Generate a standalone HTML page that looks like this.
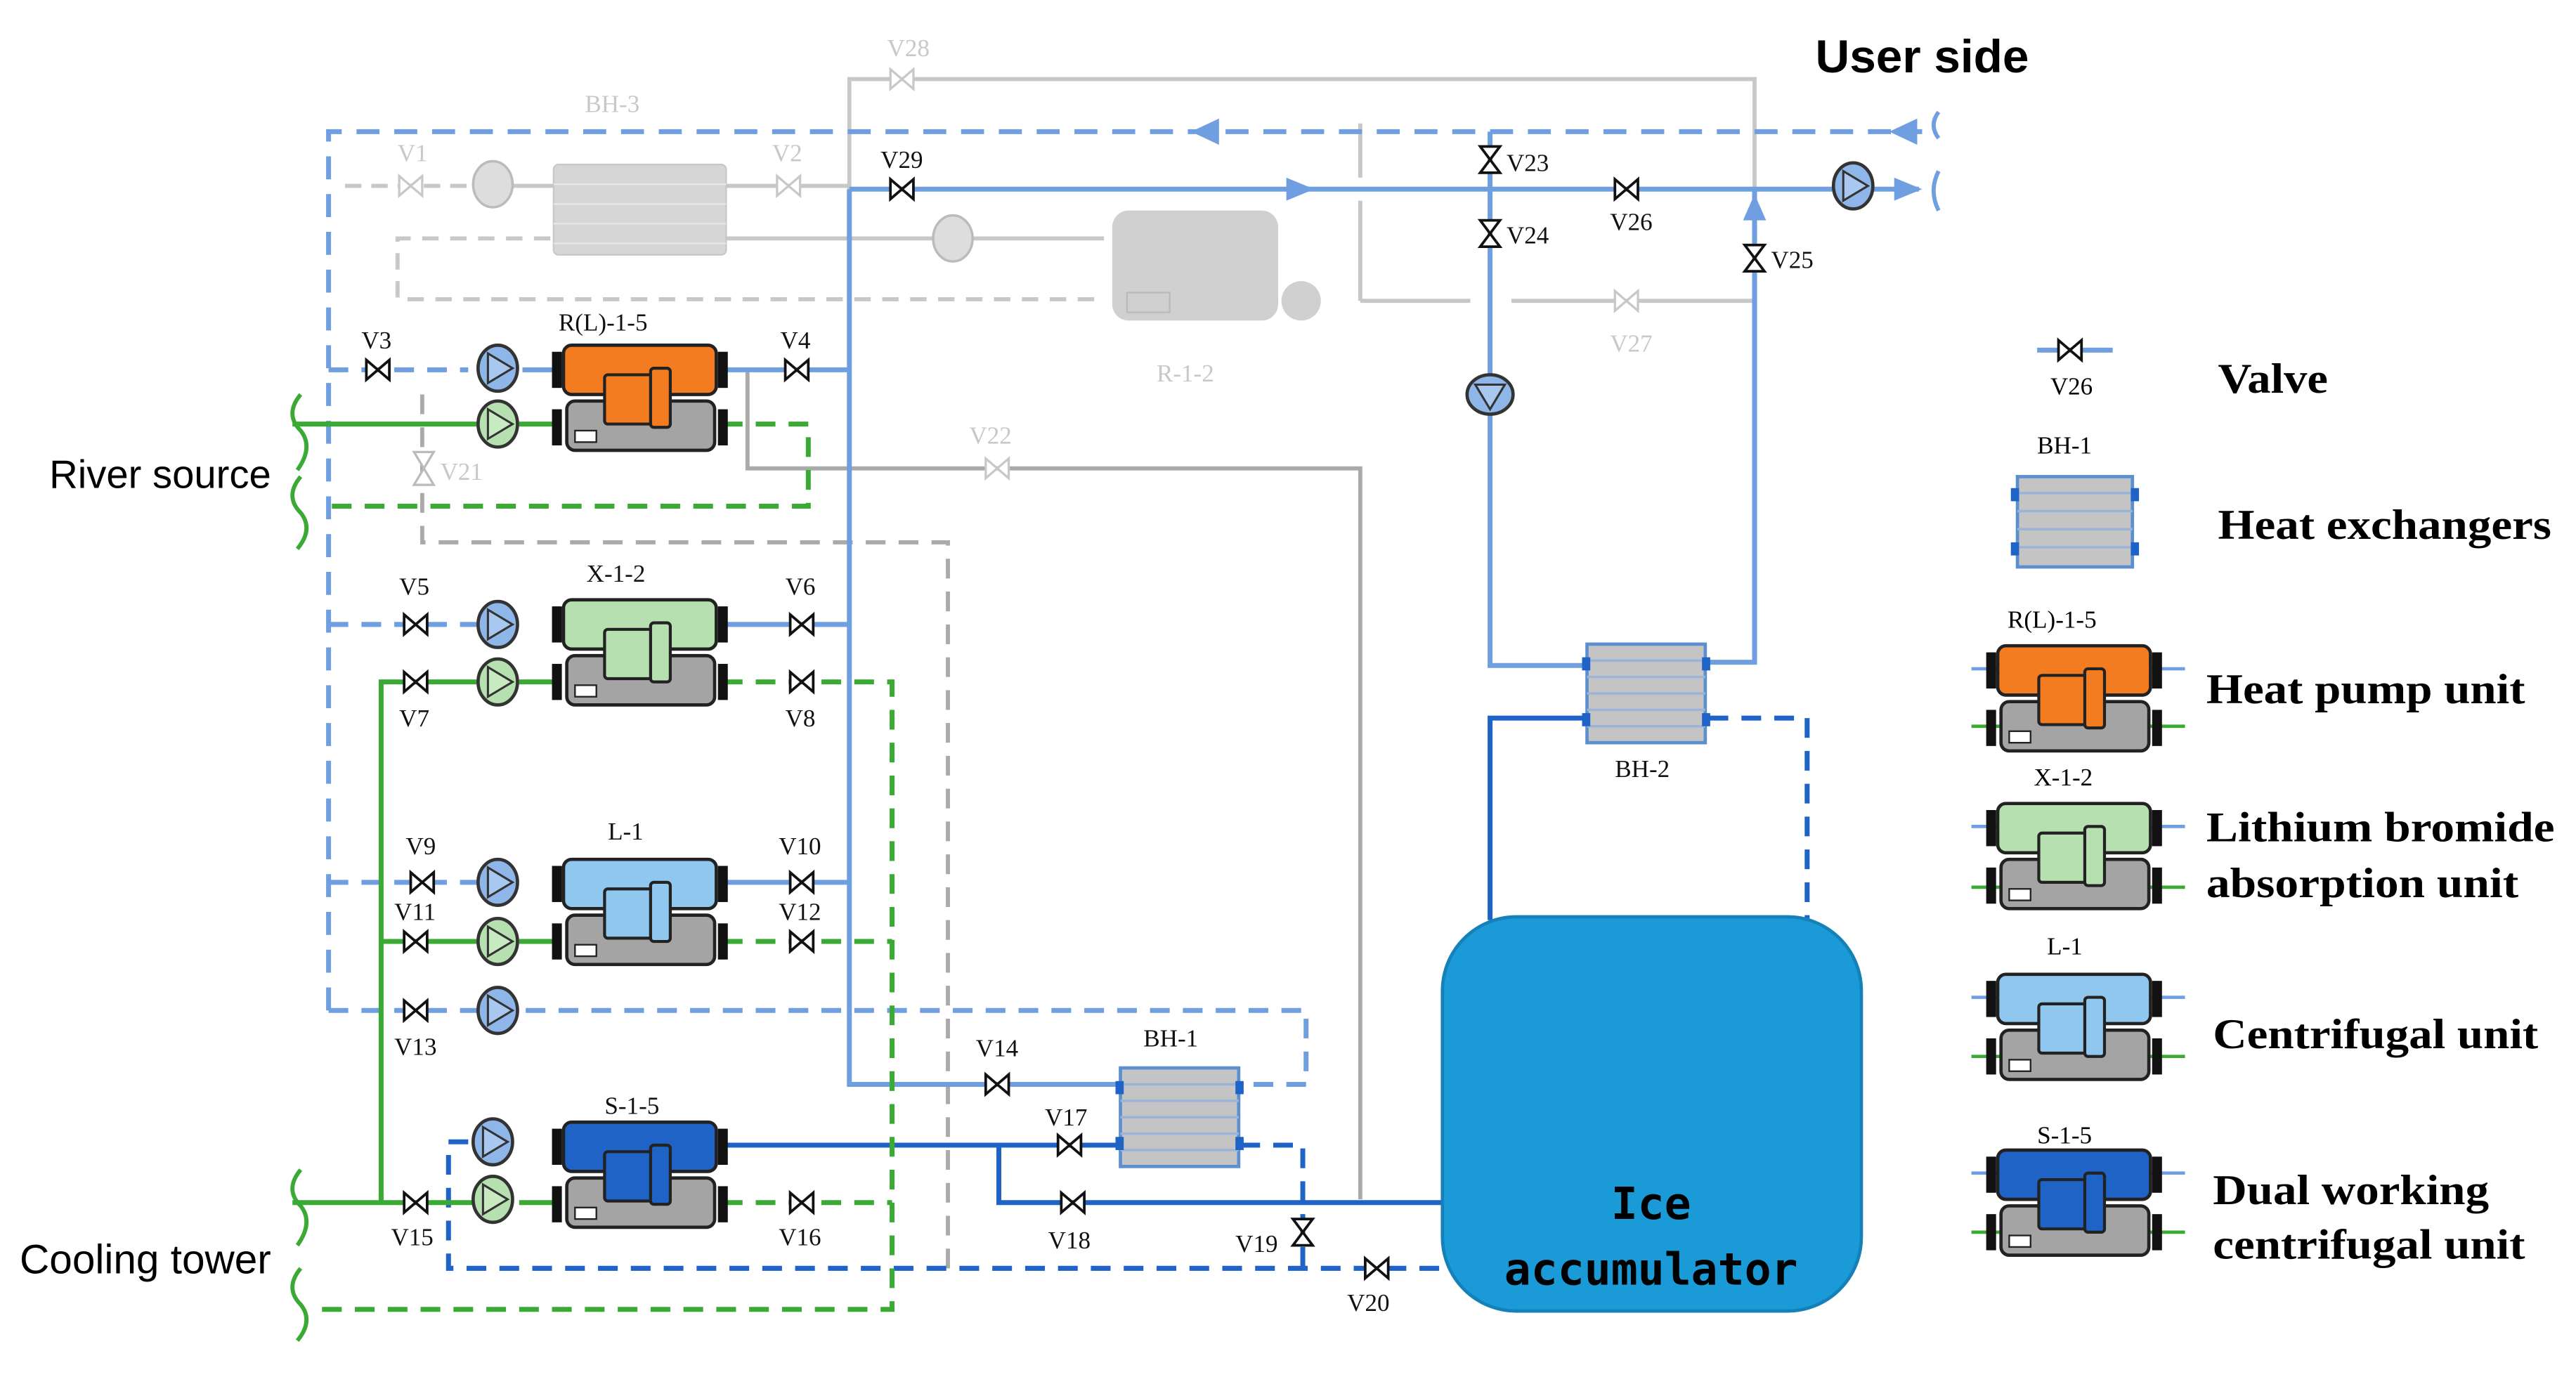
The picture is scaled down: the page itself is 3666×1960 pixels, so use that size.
<!DOCTYPE html>
<html><head><meta charset="utf-8"><style>
html,body{margin:0;padding:0;background:#fff}
svg{display:block}
text{font-family:"Liberation Serif",serif}
.s{font-family:"Liberation Sans",sans-serif}
</style></head><body>
<svg width="3666" height="1960" viewBox="0 0 1568 838" xmlns="http://www.w3.org/2000/svg">
<defs>
<g id="vh"><path d="M-7,-6 L7,6 L7,-6 L-7,6 Z" fill="#fff" stroke="#111" stroke-width="1.6"/></g>
<g id="vhg"><path d="M-7,-6 L7,6 L7,-6 L-7,6 Z" fill="#fff" stroke="#c8c8c8" stroke-width="1.4"/></g>
<g id="vv"><path d="M-6,-8 L6,8 L-6,8 L6,-8 Z" fill="#fff" stroke="#111" stroke-width="1.6"/></g>
<g id="pb"><ellipse cx="0" cy="0" rx="12" ry="14" fill="#8fb6e8" stroke="#333" stroke-width="2"/><path d="M-6,-9 L9,0 L-6,9 Z" fill="#a8c8f0" stroke="#333" stroke-width="1.3"/></g>
<g id="pg"><ellipse cx="0" cy="0" rx="12" ry="14" fill="#b7e0b0" stroke="#333" stroke-width="2"/><path d="M-6,-9 L9,0 L-6,9 Z" fill="#c8eac0" stroke="#333" stroke-width="1.3"/></g>
<g id="unit">
<rect x="-6" y="4" width="6" height="22" fill="#111"/><rect x="95" y="4" width="6" height="22" fill="#111"/>
<rect x="-6" y="39" width="6" height="22" fill="#111"/><rect x="95" y="39" width="6" height="22" fill="#111"/>
<rect x="3" y="34" width="90" height="30" rx="5" fill="#a4a4a4" stroke="#222" stroke-width="2"/>
<rect x="8" y="52" width="13" height="7" fill="#fff" stroke="#222"/>
<rect x="1" y="0" width="93" height="30" rx="5" fill="currentColor" stroke="#222" stroke-width="2"/>
<rect x="26" y="18" width="30" height="30" rx="2" fill="currentColor" stroke="#222" stroke-width="1.8"/>
<rect x="54" y="14" width="12" height="36" rx="2" fill="currentColor" stroke="#222" stroke-width="1.8"/>
</g>
<g id="hx">
<rect x="0" y="0" width="72" height="60" fill="#c4c4c4" stroke="#5b8fd0" stroke-width="2"/>
<g stroke="#9ab4d8" stroke-width="1.5"><line x1="0" y1="10" x2="72" y2="10"/><line x1="0" y1="20" x2="72" y2="20"/><line x1="0" y1="30" x2="72" y2="30"/><line x1="0" y1="40" x2="72" y2="40"/><line x1="0" y1="50" x2="72" y2="50"/></g>
<rect x="-3" y="8" width="5" height="8" fill="#1f63c6"/><rect x="70" y="8" width="5" height="8" fill="#1f63c6"/>
<rect x="-3" y="42" width="5" height="8" fill="#1f63c6"/><rect x="70" y="42" width="5" height="8" fill="#1f63c6"/>
</g>
</defs>

<g fill="none" stroke="#c8c8c8" stroke-width="2.5">
<polyline points="517,115 517,48 1068,48 1068,183 920,183"/>
<line x1="828" y1="75" x2="828" y2="108"/><line x1="828" y1="122" x2="828" y2="183"/><line x1="828" y1="183" x2="895" y2="183"/>
<line x1="210" y1="113" x2="290" y2="113" stroke-dasharray="10,6"/>
<line x1="312" y1="113" x2="517" y2="113"/>
<line x1="442" y1="145" x2="672" y2="145"/>
<polyline points="335,145 242,145 242,182 672,182" stroke-dasharray="10,7"/>
<polyline points="455,225 455,285 828,285 828,730" stroke="#aaa"/>
<polyline points="257,240 257,330 577,330 577,775" stroke="#aaa" stroke-dasharray="12,8"/>
</g>
<rect x="337" y="100" width="105" height="55" rx="3" fill="#d6d6d6" stroke="#c8c8c8"/>
<g stroke="#e6e6e6"><line x1="337" y1="112" x2="442" y2="112"/><line x1="337" y1="124" x2="442" y2="124"/><line x1="337" y1="136" x2="442" y2="136"/><line x1="337" y1="148" x2="442" y2="148"/></g>
<rect x="677" y="128" width="101" height="67" rx="10" fill="#d0d0d0"/>
<rect x="686" y="178" width="26" height="12" fill="none" stroke="#bbb"/>
<circle cx="792" cy="183" r="12" fill="#d0d0d0"/>
<ellipse cx="300" cy="112" rx="12" ry="14" fill="#ddd" stroke="#bbb" stroke-width="1.5"/>
<ellipse cx="580" cy="145" rx="12" ry="14" fill="#ddd" stroke="#bbb" stroke-width="1.5"/>
<use href="#vhg" x="250" y="113"/><use href="#vhg" x="480" y="113"/><use href="#vhg" x="549" y="48"/><use href="#vhg" x="990" y="183"/><use href="#vhg" x="607" y="285"/>
<path d="M252,275 L264,295 L252,295 L264,275 Z" fill="#fff" stroke="#bbb" stroke-width="1.4"/>
<g fill="#c8c8c8" font-size="15"><text x="356" y="68">BH-3</text><text x="242" y="98">V1</text><text x="470" y="98">V2</text><text x="540" y="34">V28</text><text x="980" y="214">V27</text><text x="590" y="270">V22</text><text x="268" y="292">V21</text><text x="704" y="232">R-1-2</text></g>

<g fill="none" stroke="#6f9fe0" stroke-width="3">
<polyline points="200,615 200,80 1170,80" stroke-dasharray="14,9"/>
<line x1="517" y1="115" x2="1120" y2="115"/>
<polyline points="517,115 517,660 680,660"/>
<polyline points="907,80 907,405 965,405"/>
<polyline points="1040,403 1068,403 1068,115"/>
<line x1="1140" y1="115" x2="1168" y2="115"/>
<polyline points="200,225 285,225" stroke-dasharray="12,8"/>
<line x1="318" y1="225" x2="340" y2="225"/><line x1="440" y1="225" x2="517" y2="225"/>
<polyline points="200,380 290,380" stroke-dasharray="12,8"/><line x1="440" y1="380" x2="517" y2="380"/>
<polyline points="200,537 290,537" stroke-dasharray="12,8"/><line x1="440" y1="537" x2="517" y2="537"/>
<polyline points="200,615 795,615 795,660 755,660" stroke-dasharray="12,8"/>
</g>
<path d="M725,80 L742,72 L742,88 Z" fill="#6f9fe0"/>
<path d="M1150,80 L1167,72 L1167,88 Z" fill="#6f9fe0"/>
<path d="M800,115 L783,108 L783,122 Z" fill="#6f9fe0"/>
<path d="M1068,118 L1061,134 L1075,134 Z" fill="#6f9fe0"/>
<path d="M1170,115 L1153,108 L1153,122 Z" fill="#6f9fe0"/>
<path d="M1180,68 q-6,8 0,16 M1180,104 q-6,12 0,24" stroke="#6f9fe0" stroke-width="2.5" fill="none"/>

<g fill="none" stroke="#1f63c6" stroke-width="3">
<line x1="440" y1="697" x2="680" y2="697"/>
<polyline points="608,697 608,732 878,732"/>
<polyline points="965,437 907,437 907,560"/>
<polyline points="1040,437 1100,437 1100,560" stroke-dasharray="12,8"/>
<polyline points="755,697 793,697 793,772" stroke-dasharray="12,8"/>
<polyline points="285,695 273,695 273,772 878,772" stroke-dasharray="12,8"/>
</g>

<g fill="none" stroke="#3aaa35" stroke-width="3">
<line x1="178" y1="258" x2="290" y2="258"/><line x1="316" y1="258" x2="340" y2="258"/>
<polyline points="440,258 492,258 492,308 200,308" stroke-dasharray="12,8"/>
<polyline points="232,732 232,415 290,415"/><line x1="316" y1="415" x2="340" y2="415"/>
<line x1="232" y1="573" x2="290" y2="573"/><line x1="316" y1="573" x2="340" y2="573"/>
<line x1="178" y1="732" x2="290" y2="732"/><line x1="316" y1="732" x2="340" y2="732"/>
<polyline points="440,415 543,415 543,797 192,797" stroke-dasharray="12,8"/>
<polyline points="440,573 543,573" stroke-dasharray="12,8"/>
<polyline points="440,732 543,732" stroke-dasharray="12,8"/>
<path d="M183,240 q-10,12 0,22 q8,10 -2,24 M183,290 q-10,12 0,22 q8,10 -2,22 M183,712 q-10,12 0,22 q8,10 -2,24 M183,772 q-10,12 0,22 q8,10 -2,22" stroke-width="2.5"/>
</g>

<rect x="878" y="558" width="255" height="240" rx="45" fill="#1a9ad6" stroke="#1680b8" stroke-width="2"/>
<text x="1005" y="742" text-anchor="middle" font-size="27" font-weight="bold" style="font-family:'DejaVu Sans Mono',monospace">Ice</text>
<text x="1005" y="782" text-anchor="middle" font-size="27" font-weight="bold" style="font-family:'DejaVu Sans Mono',monospace">accumulator</text>

<use href="#hx" x="966" y="392"/><use href="#hx" x="682" y="650"/>

<use href="#unit" x="342" y="210" color="#f47c20"/>
<use href="#unit" x="342" y="365" color="#b7e0b0"/>
<use href="#unit" x="342" y="523" color="#8fc7ef"/>
<use href="#unit" x="342" y="683" color="#1f63c6"/>

<use href="#pb" x="303" y="224"/><use href="#pg" x="303" y="258"/>
<use href="#pb" x="303" y="380"/><use href="#pg" x="303" y="415"/>
<use href="#pb" x="303" y="537"/><use href="#pg" x="303" y="573"/>
<use href="#pb" x="303" y="615"/>
<use href="#pb" x="300" y="695"/><use href="#pg" x="300" y="730"/>
<use href="#pb" x="1128" y="113"/>
<g transform="translate(907,240) rotate(90)"><use href="#pb"/></g>

<use href="#vh" x="230" y="225"/><use href="#vh" x="485" y="225"/>
<use href="#vh" x="253" y="380"/><use href="#vh" x="488" y="380"/>
<use href="#vh" x="253" y="415"/><use href="#vh" x="488" y="415"/>
<use href="#vh" x="257" y="537"/><use href="#vh" x="488" y="537"/>
<use href="#vh" x="253" y="573"/><use href="#vh" x="488" y="573"/>
<use href="#vh" x="253" y="615"/><use href="#vh" x="607" y="660"/>
<use href="#vh" x="651" y="697"/><use href="#vh" x="653" y="732"/>
<use href="#vh" x="253" y="732"/><use href="#vh" x="488" y="732"/>
<use href="#vh" x="838" y="772"/><use href="#vh" x="549" y="115"/><use href="#vh" x="990" y="115"/>
<use href="#vv" x="907" y="97"/><use href="#vv" x="907" y="142"/><use href="#vv" x="1068" y="157"/><use href="#vv" x="793" y="750"/>

<g fill="#111" font-size="15">
<text x="340" y="201">R(L)-1-5</text><text x="357" y="354">X-1-2</text><text x="370" y="511">L-1</text><text x="368" y="678">S-1-5</text>
<text x="220" y="212">V3</text><text x="475" y="212">V4</text><text x="536" y="102">V29</text>
<text x="243" y="362">V5</text><text x="478" y="362">V6</text><text x="243" y="442">V7</text><text x="478" y="442">V8</text>
<text x="247" y="520">V9</text><text x="474" y="520">V10</text><text x="240" y="560">V11</text><text x="474" y="560">V12</text>
<text x="240" y="642">V13</text><text x="594" y="643">V14</text><text x="696" y="637">BH-1</text><text x="636" y="685">V17</text>
<text x="638" y="760">V18</text><text x="752" y="762">V19</text><text x="820" y="798">V20</text>
<text x="238" y="758">V15</text><text x="474" y="758">V16</text>
<text x="917" y="104">V23</text><text x="917" y="148">V24</text><text x="980" y="140">V26</text><text x="1078" y="163">V25</text>
<text x="983" y="473">BH-2</text>
</g>
<text x="1105" y="44" class="s" font-size="28" font-weight="bold" textLength="130" lengthAdjust="spacingAndGlyphs">User side</text>
<text x="30" y="297" class="s" font-size="24" textLength="135" lengthAdjust="spacingAndGlyphs">River source</text>
<text x="12" y="775" class="s" font-size="25" textLength="153" lengthAdjust="spacingAndGlyphs">Cooling tower</text>

<line x1="1240" y1="213" x2="1286" y2="213" stroke="#6f9fe0" stroke-width="3"/>
<use href="#vh" x="1260" y="213"/>
<text x="1248" y="240" font-size="15">V26</text>
<text x="1350" y="239" font-size="26" font-weight="bold" textLength="67" lengthAdjust="spacingAndGlyphs">Valve</text>
<text x="1240" y="276" font-size="15">BH-1</text>
<rect x="1228" y="290" width="70" height="55" fill="#c4c4c4" stroke="#5b8fd0" stroke-width="2"/>
<g stroke="#9ab4d8" stroke-width="1.5"><line x1="1228" y1="300" x2="1298" y2="300"/><line x1="1228" y1="311" x2="1298" y2="311"/><line x1="1228" y1="322" x2="1298" y2="322"/><line x1="1228" y1="333" x2="1298" y2="333"/></g>
<rect x="1224" y="297" width="5" height="8" fill="#1f63c6"/><rect x="1297" y="297" width="5" height="8" fill="#1f63c6"/><rect x="1224" y="330" width="5" height="8" fill="#1f63c6"/><rect x="1297" y="330" width="5" height="8" fill="#1f63c6"/>
<text x="1350" y="328" font-size="26" font-weight="bold" textLength="203" lengthAdjust="spacingAndGlyphs">Heat exchangers</text>
<text x="1222" y="382" font-size="15">R(L)-1-5</text>
<line x1="1200" y1="407" x2="1330" y2="407" stroke="#6f9fe0" stroke-width="2"/><line x1="1200" y1="442" x2="1330" y2="442" stroke="#3aaa35" stroke-width="2"/>
<use href="#unit" x="1215" y="393" color="#f47c20"/>
<text x="1343" y="428" font-size="26" font-weight="bold" textLength="194" lengthAdjust="spacingAndGlyphs">Heat pump unit</text>
<text x="1238" y="478" font-size="15">X-1-2</text>
<line x1="1200" y1="503" x2="1330" y2="503" stroke="#6f9fe0" stroke-width="2"/><line x1="1200" y1="540" x2="1330" y2="540" stroke="#3aaa35" stroke-width="2"/>
<use href="#unit" x="1215" y="489" color="#b7e0b0"/>
<text x="1343" y="512" font-size="26" font-weight="bold" textLength="212" lengthAdjust="spacingAndGlyphs">Lithium bromide</text>
<text x="1343" y="546" font-size="26" font-weight="bold" textLength="190" lengthAdjust="spacingAndGlyphs">absorption unit</text>
<text x="1246" y="581" font-size="15">L-1</text>
<line x1="1200" y1="607" x2="1330" y2="607" stroke="#6f9fe0" stroke-width="2"/><line x1="1200" y1="643" x2="1330" y2="643" stroke="#3aaa35" stroke-width="2"/>
<use href="#unit" x="1215" y="593" color="#8fc7ef"/>
<text x="1347" y="638" font-size="26" font-weight="bold" textLength="198" lengthAdjust="spacingAndGlyphs">Centrifugal unit</text>
<text x="1240" y="696" font-size="15">S-1-5</text>
<line x1="1200" y1="714" x2="1330" y2="714" stroke="#6f9fe0" stroke-width="2"/><line x1="1200" y1="750" x2="1330" y2="750" stroke="#3aaa35" stroke-width="2"/>
<use href="#unit" x="1215" y="700" color="#1f63c6"/>
<text x="1347" y="733" font-size="26" font-weight="bold" textLength="168" lengthAdjust="spacingAndGlyphs">Dual working</text>
<text x="1347" y="766" font-size="26" font-weight="bold" textLength="190" lengthAdjust="spacingAndGlyphs">centrifugal unit</text>
</svg>
</body></html>
